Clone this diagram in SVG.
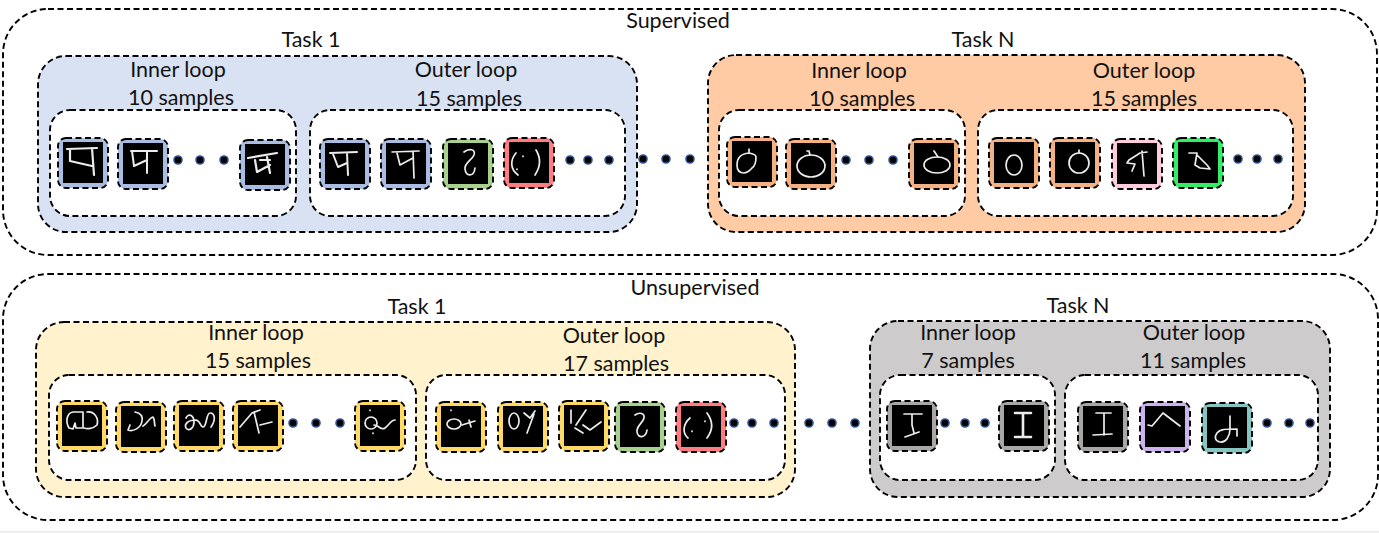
<svg xmlns="http://www.w3.org/2000/svg" width="1379" height="533" viewBox="0 0 1379 533">
<style>
text{font-family:Lato,Carlito,"Liberation Sans",sans-serif;font-size:21.5px;fill:#111;text-anchor:middle}
.b{fill:none;stroke:#000;stroke-width:1.9;stroke-dasharray:6 3.5}
.p{stroke:#000;stroke-width:1.9;stroke-dasharray:6 3.5}
.w{fill:#fff;stroke:#000;stroke-width:1.9;stroke-dasharray:6 3.5}
.g{fill:none;stroke:#ececec;stroke-width:1.7;stroke-linejoin:round;stroke-linecap:round}
.k{fill:#000}
.bl{fill:#a9bde3}.or{fill:#f4b183}.gr{fill:#a9d18e}.re{fill:#ff7c80}.ye{fill:#ffd966}.pi{fill:#ffccdd}.lg{fill:#33ee66}.pu{fill:#ccb3ee}.te{fill:#85c6c2}.ga{fill:#a9a7a5}
.d{fill:#000;stroke:#2f5597;stroke-width:1.6}
</style>
<defs>
<g id="tk"><rect class="k" x="5" y="4" width="40" height="41"/><rect class="b" width="50" height="50" rx="8"/></g>
</defs>
<rect width="1379" height="533" fill="#fff"/>
<rect x="0" y="531" width="1379" height="2" fill="#f0f0f0"/>

<g id="supervised">
<rect class="b" x="3" y="9" width="1374" height="246" rx="45"/>
<text x="678" y="28">Supervised</text>
</g>
<g id="sup-task1">
<rect class="p" fill="#d9e2f3" x="38" y="56" width="599" height="176" rx="28"/>
<text x="311" y="47">Task 1</text>
<text x="178" y="77">Inner loop</text><text x="181" y="105">10 samples</text>
<text x="466" y="77">Outer loop</text><text x="469" y="106">15 samples</text>
<rect class="w" x="50" y="110" width="246" height="106" rx="20"/>
<rect class="w" x="310" y="110" width="315" height="106" rx="20"/>
</g>
<g id="sup-taskN">
<rect class="p" fill="#ffcba5" x="708" y="55" width="597" height="177" rx="28"/>
<text x="983" y="47">Task N</text>
<text x="859" y="78">Inner loop</text><text x="862" y="106">10 samples</text>
<text x="1144" y="78">Outer loop</text><text x="1144" y="106">15 samples</text>
<rect class="w" x="719" y="110" width="246" height="106" rx="20"/>
<rect class="w" x="978" y="110" width="315" height="106" rx="20"/>
</g>
<g id="unsupervised">
<rect class="b" x="3" y="274" width="1375" height="246" rx="45"/>
<text x="695" y="295">Unsupervised</text>
</g>
<g id="uns-task1">
<rect class="p" fill="#fff2cc" x="36" y="322" width="759" height="175" rx="28"/>
<text x="417" y="314">Task 1</text>
<text x="256" y="340">Inner loop</text><text x="258" y="368">15 samples</text>
<text x="614" y="343">Outer loop</text><text x="616" y="371">17 samples</text>
<rect class="w" x="49" y="375" width="367" height="105" rx="20"/>
<rect class="w" x="426" y="375" width="359" height="105" rx="20"/>
</g>
<g id="uns-taskN">
<rect class="p" fill="#cdcbcb" x="870" y="321" width="460" height="176" rx="28"/>
<text x="1078" y="313">Task N</text>
<text x="968" y="340">Inner loop</text><text x="968" y="368">7 samples</text>
<text x="1194" y="340">Outer loop</text><text x="1193" y="368">11 samples</text>
<rect class="w" x="880" y="375" width="175" height="105" rx="20"/>
<rect class="w" x="1065" y="375" width="253" height="105" rx="20"/>
</g>

<g id="dots">
<circle class="d" cx="178" cy="160" r="4"/><circle class="d" cx="200" cy="160" r="4"/><circle class="d" cx="224" cy="160" r="4"/>
<circle class="d" cx="570" cy="160" r="4"/><circle class="d" cx="588" cy="160" r="4"/><circle class="d" cx="609" cy="160" r="4"/>
<circle class="d" cx="643" cy="159" r="4"/><circle class="d" cx="666" cy="159" r="4"/><circle class="d" cx="690" cy="159" r="4"/>
<circle class="d" cx="846" cy="160" r="4"/><circle class="d" cx="869" cy="160" r="4"/><circle class="d" cx="893" cy="160" r="4"/>
<circle class="d" cx="1238" cy="159" r="4"/><circle class="d" cx="1257" cy="159" r="4"/><circle class="d" cx="1278" cy="159" r="4"/>
<circle class="d" cx="293" cy="423" r="4"/><circle class="d" cx="316" cy="423" r="4"/><circle class="d" cx="340" cy="423" r="4"/>
<circle class="d" cx="734" cy="423" r="4"/><circle class="d" cx="752" cy="423" r="4"/><circle class="d" cx="774" cy="423" r="4"/>
<circle class="d" cx="809" cy="423" r="4"/><circle class="d" cx="832" cy="423" r="4"/><circle class="d" cx="855" cy="423" r="4"/>
<circle class="d" cx="945" cy="423" r="4"/><circle class="d" cx="965" cy="423" r="4"/><circle class="d" cx="985" cy="423" r="4"/>
<circle class="d" cx="1267" cy="423" r="4"/><circle class="d" cx="1289" cy="423" r="4"/><circle class="d" cx="1310" cy="423" r="4"/>
</g>

<g id="s1" transform="translate(58 138)"><rect class="bl" width="50" height="50" rx="8"/><use href="#tk"/><path class="g" style="stroke-width:2.2" d="M9 11L39 10M12 12V23L34 28M34 10L36 37"/></g>
<g id="s2" transform="translate(118 139)"><rect class="bl" width="50" height="50" rx="8"/><use href="#tk"/><path class="g" style="stroke-width:2" d="M13 12H39M14 12L16 27L29 21M29 12V34"/></g>
<g id="s3" transform="translate(240 140)"><rect class="bl" width="50" height="50" rx="8"/><use href="#tk"/><path class="g" style="stroke-width:2.2" d="M8 18L37 13M15 20L17 32L30 25M27 17L30 33M20 20H30"/></g>
<g id="s4" transform="translate(320 139)"><rect class="bl" width="50" height="50" rx="8"/><use href="#tk"/><path class="g" style="stroke-width:2" d="M10 14L37 13M13 15L18 28L27 24M27 14L28 36"/></g>
<g id="s5" transform="translate(381 139)"><rect class="bl" width="50" height="50" rx="8"/><use href="#tk"/><path class="g" d="M11 13L38 12M16 14L19 26L32 19M32 12L33 39"/></g>
<g id="s6" transform="translate(443 139)"><rect class="gr" width="50" height="50" rx="8"/><use href="#tk"/><path class="g" d="M21 13C26 9 33 10 31 16C29 21 21 24 22 30C23 38 31 38 32 29"/></g>
<g id="s7" transform="translate(504 138)"><rect class="re" width="50" height="50" rx="8"/><use href="#tk"/><path class="g" d="M12 15C6 22 6 31 14 37M19 18V18.5M13 31V31.5M32 12C37 20 37 28 31 37"/></g>

<g id="s8" transform="translate(727 137)"><rect class="or" width="50" height="50" rx="8"/><use href="#tk"/><path class="g" d="M22 12V16C26 17 29 17 29 20C29 25 28 29 25 31C22 34 21 36 17 36C12 36 10 33 10 28C10 22 12 17 22 16"/></g>
<g id="s9" transform="translate(786 139)"><rect class="or" width="50" height="50" rx="8"/><use href="#tk"/><ellipse class="g" cx="25" cy="27" rx="14" ry="11"/><path class="g" d="M21 12H23L24 16"/></g>
<g id="s10" transform="translate(909 139)"><rect class="or" width="50" height="50" rx="8"/><use href="#tk"/><ellipse class="g" cx="28" cy="26" rx="13" ry="8"/><path class="g" d="M25 12L29 18"/></g>
<g id="s11" transform="translate(989 138)"><rect class="or" width="50" height="50" rx="8"/><use href="#tk"/><ellipse class="g" cx="25" cy="27" rx="8" ry="10"/></g>
<g id="s12" transform="translate(1050 138)"><rect class="or" width="50" height="50" rx="8"/><use href="#tk"/><circle class="g" cx="29" cy="25" r="10"/><path class="g" d="M29 12V15"/></g>
<g id="s13" transform="translate(1112 139)"><rect class="pi" width="50" height="50" rx="8"/><use href="#tk"/><path class="g" d="M35 13L28 14L25 16L17 21L15 24L23 25L20 32M30 12L32 37"/></g>
<g id="s14" transform="translate(1173 138)"><rect class="lg" width="50" height="50" rx="8"/><use href="#tk"/><path class="g" d="M16 15H24L22 27L27 30L37 31M24 17L34 27L37 31"/></g>

<g id="u1" transform="translate(57 401)"><rect class="ye" width="50" height="50" rx="8"/><use href="#tk"/><path class="g" d="M12 27C8 20 10 12 16 11H26V27H19L18 22L16 28ZM30 11C38 10 42 18 40 24C36 28 30 28 27 27"/></g>
<g id="u2" transform="translate(116 402)"><rect class="ye" width="50" height="50" rx="8"/><use href="#tk"/><path class="g" d="M19 10C24 11 27 14 26 19C25 26 17 30 12 28L14 23M27 24C31 22 33 16 37 15C39 17 38 21 39 24"/></g>
<g id="u3" transform="translate(174 401)"><rect class="ye" width="50" height="50" rx="8"/><use href="#tk"/><path class="g" d="M12 17C15 11 20 15 20 21C20 27 15 31 12 27C10 23 14 19 22 19C27 20 26 26 29 26C33 26 32 12 36 12C41 12 42 19 37 26"/></g>
<g id="u4" transform="translate(233 401)"><rect class="ye" width="50" height="50" rx="8"/><use href="#tk"/><path class="g" d="M7 26L19 12L27 9M21 11L26 32M27 24L39 21"/></g>
<g id="u5" transform="translate(355 401)"><rect class="ye" width="50" height="50" rx="8"/><use href="#tk"/><circle class="g" cx="16" cy="22" r="6"/><path class="g" d="M15 9V9.5M18 32V32.5M19 24C24 24 26 30 30 27C34 24 36 19 40 19"/></g>
<g id="u6" transform="translate(436 402)"><rect class="ye" width="50" height="50" rx="8"/><use href="#tk"/><ellipse class="g" cx="18" cy="22" rx="7" ry="5"/><path class="g" d="M15 8V8.5M26 23L39 19M33 18L35 25"/></g>
<g id="u7" transform="translate(498 402)"><rect class="ye" width="50" height="50" rx="8"/><use href="#tk"/><ellipse class="g" cx="16" cy="19" rx="5" ry="8"/><path class="g" d="M26 11L32 16L37 9M36 12L29 31"/></g>
<g id="u8" transform="translate(559 401)"><rect class="ye" width="50" height="50" rx="8"/><use href="#tk"/><path class="g" d="M12 9V22M17 24L27 9M24 24L31 29L42 21M16 27L24 32"/></g>
<g id="u9" transform="translate(615 402)"><rect class="gr" width="50" height="50" rx="8"/><use href="#tk"/><path class="g" d="M20 13C24 10 30 11 29 16C28 21 21 24 22 30C23 37 31 36 32 28"/></g>
<g id="u10" transform="translate(676 402)"><rect class="re" width="50" height="50" rx="8"/><use href="#tk"/><path class="g" d="M14 16C7 22 6 31 12 36M29 19V19.5M16 29V29.5M31 11C37 19 37 28 31 36"/></g>
<g id="u11" transform="translate(887 401)"><rect class="ga" width="50" height="50" rx="8"/><use href="#tk"/><path class="g" d="M17 13H35M25 13V24L27 32M18 36L32 31"/></g>
<g id="u12" transform="translate(999 401)"><rect class="ga" width="50" height="50" rx="8"/><use href="#tk"/><path class="g" style="stroke-width:2.6" d="M16 12H32M24 12V36M16 36H32"/></g>
<g id="u13" transform="translate(1078 402)"><rect class="ga" width="50" height="50" rx="8"/><use href="#tk"/><path class="g" d="M18 11H33M26 11V33M15 33L34 32"/></g>
<g id="u14" transform="translate(1140 402)"><rect class="pu" width="50" height="50" rx="8"/><use href="#tk"/><path class="g" d="M8 23L12 24L23 11L40 24"/></g>
<g id="u15" transform="translate(1202 403)"><rect class="te" width="50" height="50" rx="8"/><use href="#tk"/><path class="g" d="M28 13V26C28 33 24 40 18 39C13 38 12 34 15 30C18 26 24 26 35 26V33"/></g>
</svg>
